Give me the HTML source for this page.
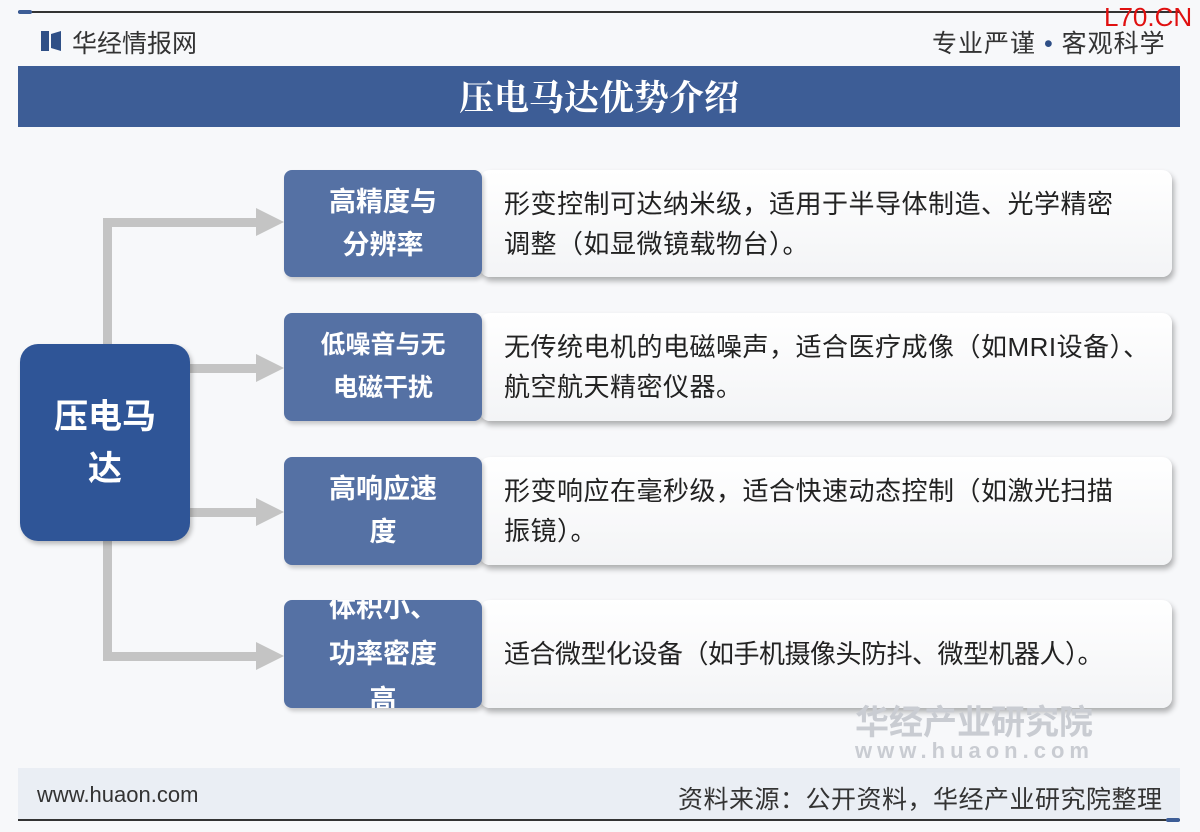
<!DOCTYPE html>
<html><head><meta charset="utf-8"><style>
body{margin:0;width:1200px;height:832px;background:#f7f8fa;position:relative;overflow:hidden;font-family:"Liberation Sans","Noto Sans CJK SC",sans-serif}
.a{position:absolute}
.lab{position:absolute;left:284px;width:198px;background:#5571a4;border-radius:8px;color:#fff;font-size:27px;font-weight:bold;display:flex;align-items:center;justify-content:center;text-align:center;line-height:43px;box-shadow:2px 3px 4px rgba(0,0,0,.2)}
.desc{position:absolute;left:480px;width:692px;background:linear-gradient(#fff,#f3f4f6);border-radius:10px;box-shadow:2px 4px 6px rgba(0,0,0,.3);color:#222;font-size:26px;letter-spacing:0.5px;line-height:40px;display:flex;align-items:center;padding-left:24px;box-sizing:border-box;white-space:nowrap;overflow:visible}
.g{position:absolute;background:#c4c4c4}
.arr{position:absolute;width:0;height:0;border-top:14px solid transparent;border-bottom:14px solid transparent;border-left:28px solid #c4c4c4}
</style></head><body>
<div class="a" style="left:18px;top:11px;width:1162px;height:2px;background:#333"></div>
<div class="a" style="left:18px;top:10px;width:14px;height:4px;background:#3d5d96;border-radius:2px"></div>
<div class="a" style="left:41px;top:31px;width:8px;height:20px;background:#2f4f86"></div>
<div class="a" style="left:51px;top:31px;width:10px;height:20px;background:#2f4f86;clip-path:polygon(0 15%,100% 0,100% 100%,0 85%)"></div>
<div class="a" style="left:72px;top:24px;font-size:25px;color:#333">华经情报网</div>
<div class="a" style="left:932px;top:24px;font-size:25px;color:#333;letter-spacing:1px">专业严谨 <span style="color:#2f4f86">•</span> 客观科学</div>
<div class="a" style="left:1104px;top:2px;font-size:26px;color:#e01010">L70.CN</div>
<div class="a" style="left:18px;top:66px;width:1162px;height:61px;background:#3d5d96;color:#fff;font-size:35px;font-weight:bold;text-align:center;line-height:66px;font-family:'Liberation Serif','Noto Serif CJK SC',serif">压电马达优势介绍</div>

<div class="g" style="left:103px;top:218px;width:9px;height:126px"></div>
<div class="g" style="left:103px;top:218px;width:155px;height:9px"></div>
<div class="arr" style="left:256px;top:208px"></div>
<div class="g" style="left:190px;top:364px;width:68px;height:9px"></div>
<div class="arr" style="left:256px;top:354px"></div>
<div class="g" style="left:190px;top:508px;width:68px;height:9px"></div>
<div class="arr" style="left:256px;top:498px"></div>
<div class="g" style="left:103px;top:541px;width:9px;height:120px"></div>
<div class="g" style="left:103px;top:652px;width:155px;height:9px"></div>
<div class="arr" style="left:256px;top:642px"></div>

<div class="a" style="left:20px;top:344px;width:170px;height:197px;background:#2f5597;border-radius:18px;color:#fff;font-size:34px;font-weight:bold;display:flex;align-items:center;justify-content:center;text-align:center;line-height:52px;box-shadow:2px 3px 5px rgba(0,0,0,.25)">压电马<br>达</div>

<div class="desc" style="top:170px;height:107px"><div>形变控制可达纳米级，适用于半导体制造、光学精密<br>调整（如显微镜载物台）。</div></div>
<div class="lab" style="top:170px;height:107px">高精度与<br>分辨率</div>
<div class="desc" style="top:313px;height:108px"><div>无传统电机的电磁噪声，适合医疗成像（如MRI设备）、<br>航空航天精密仪器。</div></div>
<div class="lab" style="top:313px;height:108px;font-size:25px">低噪音与无<br>电磁干扰</div>
<div class="desc" style="top:457px;height:108px"><div>形变响应在毫秒级，适合快速动态控制（如激光扫描<br>振镜）。</div></div>
<div class="lab" style="top:457px;height:108px">高响应速<br>度</div>
<div class="desc" style="top:600px;height:108px"><div style="letter-spacing:-0.5px">适合微型化设备（如手机摄像头防抖、微型机器人）。</div></div>
<div class="lab" style="top:600px;height:108px;line-height:46px;overflow:hidden">体积小、<br>功率密度<br>高</div>

<div class="a" style="left:855px;top:695px;font-size:34px;color:#c9ccd2;font-weight:bold">华经产业研究院</div>
<div class="a" style="left:855px;top:738px;font-size:22px;color:#c9ccd2;letter-spacing:5px;font-weight:bold">www.huaon.com</div>
<div class="a" style="left:18px;top:768px;width:1162px;height:52px;background:rgba(230,235,243,.8)"></div>
<div class="a" style="left:37px;top:782px;font-size:22px;color:#333">www.huaon.com</div>
<div class="a" style="left:678px;top:780px;font-size:25px;color:#333;letter-spacing:0.5px">资料来源：公开资料，华经产业研究院整理</div>
<div class="a" style="left:18px;top:819px;width:1162px;height:2px;background:#333"></div>
<div class="a" style="left:1166px;top:818px;width:14px;height:4px;background:#3d5d96;border-radius:2px"></div>
</body></html>
